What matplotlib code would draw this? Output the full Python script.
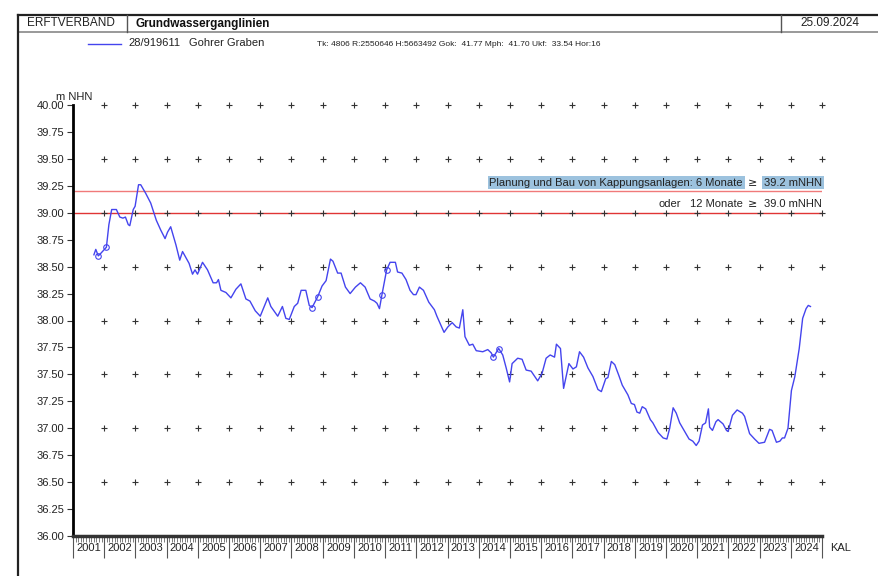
import matplotlib
matplotlib.use("Agg")
import matplotlib.pyplot as plt
from matplotlib.lines import Line2D
from matplotlib.transforms import blended_transform_factory
import numpy as np

plt.rcParams['font.family'] = ['Liberation Sans', 'DejaVu Sans']

# ---- data (decimal year, water level m NHN) ----
t = [2001.67, 2001.73, 2001.81, 2001.88, 2002.07, 2002.15, 2002.24, 2002.39, 2002.50, 2002.60,
     2002.68, 2002.77, 2002.82, 2002.93, 2002.99, 2003.10, 2003.17, 2003.33, 2003.49, 2003.67,
     2003.81, 2003.95, 2004.03, 2004.13, 2004.30, 2004.42, 2004.51, 2004.72, 2004.83, 2004.91,
     2004.99, 2005.15, 2005.31, 2005.49, 2005.60, 2005.66, 2005.74, 2005.90, 2006.06, 2006.22,
     2006.38, 2006.54, 2006.67, 2006.84, 2007.00, 2007.10, 2007.24, 2007.34, 2007.56, 2007.71,
     2007.82, 2007.93, 2008.09, 2008.20, 2008.31, 2008.46, 2008.57, 2008.66, 2008.84, 2008.98,
     2009.11, 2009.25, 2009.33, 2009.48, 2009.59, 2009.73, 2009.88, 2010.05, 2010.21, 2010.36,
     2010.52, 2010.66, 2010.74, 2010.82, 2010.90, 2011.05, 2011.16, 2011.33, 2011.40, 2011.54,
     2011.67, 2011.80, 2011.91, 2011.99, 2012.10, 2012.23, 2012.40, 2012.58, 2012.66, 2012.89,
     2013.01, 2013.15, 2013.28, 2013.38, 2013.49, 2013.56, 2013.70, 2013.81, 2013.92, 2014.13,
     2014.29, 2014.40, 2014.47, 2014.64, 2014.77, 2014.88, 2014.99, 2015.07, 2015.25, 2015.39,
     2015.52, 2015.68, 2015.89, 2016.03, 2016.16, 2016.29, 2016.43, 2016.49, 2016.62, 2016.72,
     2016.89, 2017.02, 2017.13, 2017.23, 2017.36, 2017.50, 2017.66, 2017.82, 2017.93, 2018.07,
     2018.14, 2018.25, 2018.36, 2018.49, 2018.60, 2018.78, 2018.89, 2018.99, 2019.07, 2019.16,
     2019.24, 2019.35, 2019.50, 2019.58, 2019.75, 2019.91, 2020.03, 2020.12, 2020.23, 2020.33,
     2020.44, 2020.60, 2020.74, 2020.86, 2020.97, 2021.06, 2021.17, 2021.27, 2021.36, 2021.40,
     2021.49, 2021.60, 2021.67, 2021.83, 2021.94, 2021.99, 2022.13, 2022.28, 2022.45, 2022.52,
     2022.68, 2022.84, 2022.98, 2023.16, 2023.32, 2023.40, 2023.54, 2023.65, 2023.73, 2023.80,
     2023.91, 2024.02, 2024.13, 2024.27, 2024.38, 2024.49, 2024.56, 2024.63]
level = [38.61, 38.66, 38.60, 38.62, 38.68, 38.89, 39.03, 39.03, 38.96, 38.95,
         38.96, 38.89, 38.88, 39.03, 39.06, 39.26, 39.26, 39.18, 39.09, 38.93,
         38.84, 38.76, 38.82, 38.87, 38.70, 38.56, 38.64, 38.53, 38.43, 38.47,
         38.43, 38.54, 38.47, 38.35, 38.35, 38.38, 38.28, 38.26, 38.21, 38.29,
         38.34, 38.20, 38.18, 38.09, 38.04, 38.11, 38.21, 38.13, 38.04, 38.13,
         38.02, 38.01, 38.13, 38.16, 38.28, 38.28, 38.14, 38.12, 38.22, 38.32,
         38.37, 38.57, 38.55, 38.44, 38.44, 38.31, 38.25, 38.31, 38.35, 38.31,
         38.20, 38.18, 38.16, 38.11, 38.24, 38.47, 38.54, 38.54, 38.45, 38.44,
         38.38, 38.28, 38.24, 38.24, 38.31, 38.28, 38.17, 38.10, 38.04, 37.89,
         37.94, 37.98, 37.94, 37.93, 38.10, 37.85, 37.77, 37.78, 37.72, 37.71,
         37.73, 37.70, 37.66, 37.74, 37.68, 37.56, 37.43, 37.60, 37.65, 37.64,
         37.54, 37.53, 37.44, 37.51, 37.65, 37.68, 37.66, 37.78, 37.74, 37.37,
         37.60, 37.55, 37.57, 37.71, 37.66, 37.56, 37.48, 37.36, 37.34, 37.46,
         37.47, 37.62, 37.59, 37.49, 37.40, 37.31, 37.23, 37.22, 37.15, 37.14,
         37.20, 37.18, 37.08, 37.05, 36.96, 36.91, 36.90, 37.00, 37.19, 37.14,
         37.05, 36.97, 36.90, 36.88, 36.84, 36.88, 37.03, 37.05, 37.18, 37.01,
         36.98, 37.06, 37.08, 37.04, 36.98, 36.97, 37.12, 37.17, 37.14, 37.11,
         36.95, 36.90, 36.86, 36.87, 36.99, 36.98, 36.87, 36.88, 36.91, 36.91,
         37.00, 37.35, 37.48, 37.74, 38.02, 38.11, 38.14, 38.13]
mark_t = [2001.81, 2002.07, 2008.66, 2008.84, 2010.90, 2011.05, 2014.47, 2014.64]
mark_v = [38.60, 38.68, 38.12, 38.22, 38.24, 38.47, 37.66, 37.74]

years = list(range(2001, 2025))
yticks = [36.00, 36.25, 36.50, 36.75, 37.00, 37.25, 37.50, 37.75, 38.00,
          38.25, 38.50, 38.75, 39.00, 39.25, 39.50, 39.75, 40.00]
plus_x = list(range(2002, 2026))
plus_y = [36.5, 37.0, 37.5, 38.0, 38.5, 39.0, 39.5, 40.0]
thr_6 = 39.2
thr_12 = 39.0

W, H = 879, 576
fig = plt.figure(figsize=(W / 100, H / 100), dpi=100)
fig.patch.set_facecolor('white')

def fx(px):
    return px / W

def fy(py):
    return 1 - py / H

ax = fig.add_axes([fx(73), fy(536), fx(822) - fx(73), fy(105) - fy(536)])
ax.set_xlim(2001, 2025)
ax.set_ylim(36, 40)

# threshold lines
ax.axhline(thr_6, color='#f07a7a', lw=1.0, zorder=1)
ax.axhline(thr_12, color='#e03535', lw=1.0, zorder=1)

# plus grid
px_, py_ = np.meshgrid(plus_x, plus_y)
ax.plot(px_.ravel(), py_.ravel(), ls='none', marker='+', ms=4.5, mew=0.8,
        color='#333333', clip_on=False, zorder=2)

# series
line_col = '#4444ee'
ax.plot(t, level, color=line_col, lw=1.0, zorder=3)
ax.plot(mark_t, mark_v, ls='none', marker='o', ms=4, mfc='none', mec=line_col,
        mew=0.8, zorder=4)

# spines
for s in ['top', 'right']:
    ax.spines[s].set_visible(False)
ax.spines['left'].set_linewidth(2.0)
ax.spines['left'].set_color('black')
ax.spines['bottom'].set_linewidth(2.5)
ax.spines['bottom'].set_color('#333333')

ax.set_yticks(yticks)
ax.set_yticklabels([f"{v:.2f}" for v in yticks], fontsize=8)
ax.tick_params(axis='y', direction='out', length=4, width=0.8, pad=2, colors='#333333')
ax.tick_params(axis='y', labelcolor='#222222')

ax.set_xticks([y for y in years] + [2025])
ax.set_xticklabels([])
ax.tick_params(axis='x', which='major', direction='out', length=16, width=0.8, color='#555555')
ax.set_xticks([2001 + k / 12 for k in range(24 * 12 + 1)], minor=True)
ax.tick_params(axis='x', which='minor', direction='out', length=4, width=0.6, color='#666666')

trans = blended_transform_factory(ax.transData, ax.transAxes)
for yr in years:
    ax.text(yr + 0.5, -0.028, str(yr), transform=trans, ha='center', va='center',
            fontsize=8, color='#222222')

fig.text(fx(830), fy(548), "KAL", ha='left', va='center', fontsize=8, color='#222222')
fig.text(fx(92), fy(97), "m NHN", ha='right', va='center', fontsize=8, color='#222222')

# annotations
hl = dict(boxstyle='square,pad=0.15', fc='#9cc2de', ec='none')
fig.text(fx(743), fy(182.5), "Planung und Bau von Kappungsanlagen: 6 Monate", ha='right',
         va='center', fontsize=8, color='#222222', bbox=hl)
fig.text(fx(753), fy(182.5), "\u2265", ha='center', va='center', fontsize=8, color='#222222',
         family=['DejaVu Sans'])
fig.text(fx(822), fy(182.5), "39.2 mNHN", ha='right', va='center', fontsize=8,
         color='#222222', bbox=hl)
fig.text(fx(681), fy(204), "oder", ha='right', va='center', fontsize=8, color='#222222')
fig.text(fx(743), fy(204), "12 Monate", ha='right', va='center', fontsize=8, color='#222222')
fig.text(fx(753), fy(204), "\u2265", ha='center', va='center', fontsize=8, color='#222222',
         family=['DejaVu Sans'])
fig.text(fx(822), fy(204), "39.0 mNHN", ha='right', va='center', fontsize=8, color='#222222')

# frame / header
def fline(x0, y0, x1, y1, lw, col):
    fig.add_artist(Line2D([fx(x0), fx(x1)], [fy(y0), fy(y1)], lw=lw, color=col,
                          transform=fig.transFigure))

fline(18, 15, 879, 15, 1.6, '#222222')
fline(18, 32, 879, 32, 1.2, '#888888')
fline(18, 15, 18, 576, 1.6, '#222222')
fline(127, 15, 127, 32, 1.0, '#555555')
fline(781, 15, 781, 32, 1.0, '#555555')

fig.text(fx(27), fy(23.5), "ERFTVERBAND", ha='left', va='center', fontsize=8.5, color='#222222')
fig.text(fx(136), fy(23.5), "Grundwasserganglinien", ha='left', va='center', fontsize=8.5,
         fontweight='bold', color='#111111')
fig.text(fx(800), fy(23.5), "25.09.2024", ha='left', va='center', fontsize=8.5, color='#222222')

fline(88, 43.5, 121, 43.5, 1.0, line_col)
fig.text(fx(128), fy(43.5), "28/919611", ha='left', va='center', fontsize=8, color='#222222')
fig.text(fx(189), fy(43.5), "Gohrer Graben", ha='left', va='center', fontsize=8, color='#222222')
fig.text(fx(317), fy(44), "Tk: 4806 R:2550646 H:5663492 Gok:  41.77 Mph:  41.70 Ukf:  33.54 Hor:16",
         ha='left', va='center', fontsize=6, color='#222222')

fig.savefig("out.png", dpi=100, facecolor='white')
